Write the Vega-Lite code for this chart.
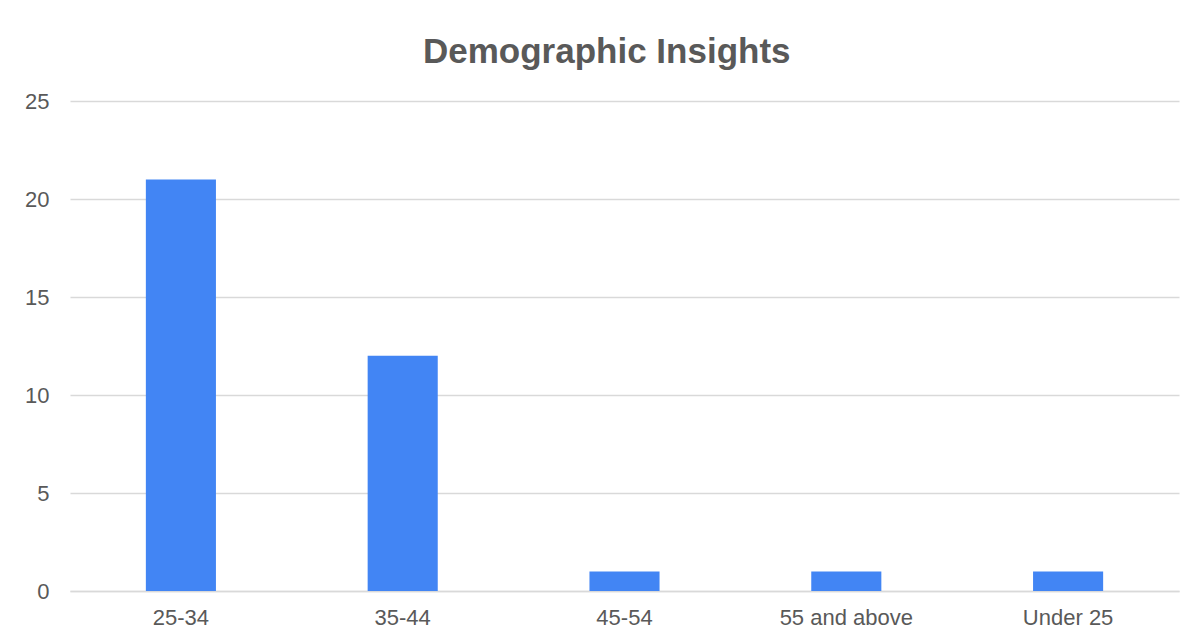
{
  "$schema": "https://vega.github.io/schema/vega-lite/v6.json",
  "autosize": "none",
  "padding": {"left": 70, "top": 101, "right": 22, "bottom": 48},
  "width": 1109,
  "height": 490,
  "background": "#ffffff",
  "title": {
    "text": "Demographic Insights",
    "anchor": "middle",
    "frame": "bounds",
    "baseline": "alphabetic",
    "offset": -8,
    "dx": 5,
    "font": "Liberation Sans",
    "fontSize": 35,
    "fontWeight": "bold",
    "color": "#595959"
  },
  "data": {
    "values": [
      {"age_group": "25-34", "count": 21},
      {"age_group": "35-44", "count": 12},
      {"age_group": "45-54", "count": 1},
      {"age_group": "55 and above", "count": 1},
      {"age_group": "Under 25", "count": 1}
    ]
  },
  "mark": {"type": "bar", "color": "#4285f4"},
  "encoding": {
    "x": {
      "field": "age_group",
      "type": "nominal",
      "sort": null,
      "title": null,
      "scale": {"paddingInner": 0.684, "paddingOuter": 0.342},
      "axis": {
        "labelAngle": 0,
        "labelFont": "Liberation Sans",
        "labelFontSize": 22,
        "labelColor": "#595959",
        "labelPadding": 16,
        "ticks": false,
        "domain": true,
        "domainColor": "#d9d9d9",
        "domainWidth": 1.5,
        "grid": false
      }
    },
    "y": {
      "field": "count",
      "type": "quantitative",
      "title": null,
      "scale": {"domain": [0, 25]},
      "axis": {
        "values": [0, 5, 10, 15, 20, 25],
        "labelFont": "Liberation Sans",
        "labelFontSize": 22,
        "labelColor": "#595959",
        "labelPadding": 21,
        "ticks": false,
        "domain": false,
        "grid": true,
        "gridColor": "#d9d9d9",
        "gridWidth": 1.5
      }
    }
  },
  "config": {
    "view": {"stroke": null}
  }
}
